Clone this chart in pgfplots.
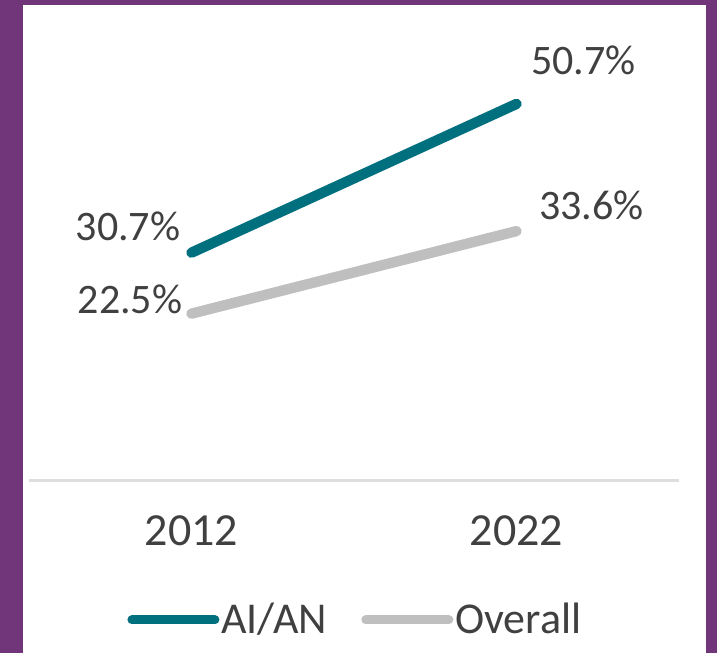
\documentclass[border=0pt]{standalone}
\usepackage{pgfplots}
\pgfplotsset{compat=1.18}
\usepackage{pgfplotstable}
\usepackage{fontspec}
\setmainfont{Carlito}

\definecolor{framepurple}{HTML}{703679}
\definecolor{aianteal}{HTML}{00707F}
\definecolor{overallgray}{HTML}{BFBFBF}
\definecolor{axisgray}{HTML}{DEDEDE}
\definecolor{textgray}{HTML}{404040}

% x y and label offsets (pt)
\pgfplotstableread{
x y dx dy
0 30.7 -31.75 13.25
1 50.7 33.5 22
}\aian
\pgfplotstableread{
x y dx dy
0 22.5 -30.75 7.25
1 33.6 37.5 12.75
}\overall

\pgfplotsset{
    pctlabels/.style={
        draw=none, forget plot,
        point meta=y,
        visualization depends on={\thisrow{dx}\as\dx},
        visualization depends on={\thisrow{dy}\as\dy},
        nodes near coords={\pgfmathprintnumber[fixed,fixed zerofill,precision=1]{\pgfplotspointmeta}\%},
        nodes near coords style={anchor=center, inner sep=0pt, text=textgray,
            font=\fontsize{21pt}{24pt}\selectfont, xshift=\dx pt, yshift=\dy pt},
    },
}

\begin{document}
\begin{tikzpicture}
\fill[framepurple] (0,0) rectangle (358.5pt,326.5pt);
\fill[white] (11.5pt,0) rectangle (353pt,324pt);
\begin{axis}[
    at={(14.5pt,86pt)}, anchor=south west,
    scale only axis,
    width=325pt, height=238pt,
    xmin=-0.5, xmax=1.5,
    ymin=0, ymax=64,
    clip=false,
    axis y line=none,
    axis x line*=bottom,
    axis line style={draw=axisgray, line width=1.5pt, -},
    xtick={0,1}, xticklabels={2012,2022},
    major tick length=0pt,
    xticklabel style={font=\fontsize{23pt}{26pt}\selectfont, text=textgray, anchor=base, yshift=-32pt},
    /pgf/number format/assume math mode=true,
    legend columns=2,
    legend style={at={(0.1508,-0.292)}, anchor=west, draw=none, fill=none,
        inner sep=0pt, font=\fontsize{22pt}{25pt}\selectfont, text=textgray,
        nodes={inner sep=1pt},
        /tikz/every even column/.append style={column sep=16pt}},
    legend image code/.code={\draw[#1, line width=4.5pt] (0pt,0pt) -- (41.5pt,0pt);},
]
\addplot[aianteal, line width=5.2pt, line cap=round] table[x=x,y=y] {\aian};
\addlegendentry{AI/AN}
\addplot[overallgray, line width=5.2pt, line cap=round] table[x=x,y=y] {\overall};
\addlegendentry{Overall}
\addplot[pctlabels] table[x=x,y=y] {\aian};
\addplot[pctlabels] table[x=x,y=y] {\overall};
\end{axis}
\end{tikzpicture}
\end{document}
